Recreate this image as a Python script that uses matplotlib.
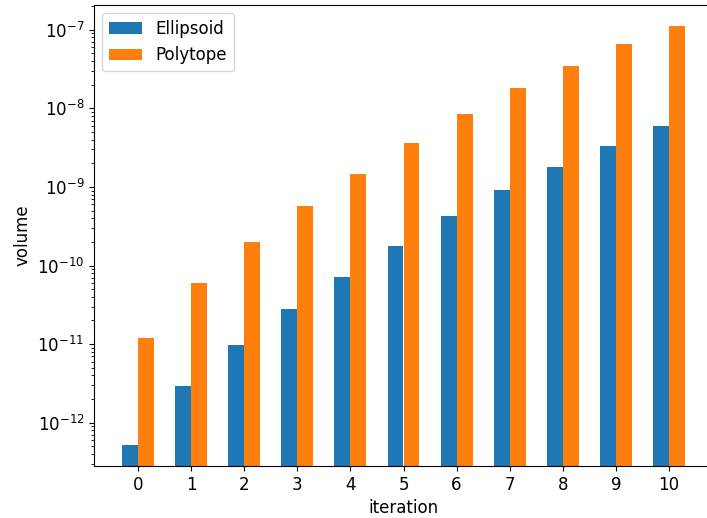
import matplotlib
matplotlib.use("Agg")
import matplotlib.pyplot as plt
import numpy as np

iterations = list(range(11))
ellipsoid = [5.2e-13, 2.9e-12, 9.8e-12, 2.8e-11, 7.2e-11, 1.8e-10, 4.3e-10, 9.2e-10, 1.8e-9, 3.3e-9, 5.9e-9]
polytope = [1.2e-11, 6.0e-11, 2.0e-10, 5.7e-10, 1.46e-9, 3.6e-9, 8.6e-9, 1.8e-8, 3.5e-8, 6.6e-8, 1.12e-7]

plt.rcParams['font.size'] = 12
fig = plt.figure(figsize=(7.07, 5.18), dpi=100)
ax = fig.add_axes([94/707, 52/518, (713-94)/707, (466-5)/518])
x = np.array(iterations)
w = 0.3
ax.bar(x - w/2, ellipsoid, w, label='Ellipsoid', color='#1f77b4')
ax.bar(x + w/2, polytope, w, label='Polytope', color='#ff7f0e')
ax.set_yscale('log')
ax.set_xticks(x)
ax.set_xlabel('iteration')
ax.set_ylabel('volume')
ax.legend(loc='upper left')
fig.savefig('out.png', dpi=100)
